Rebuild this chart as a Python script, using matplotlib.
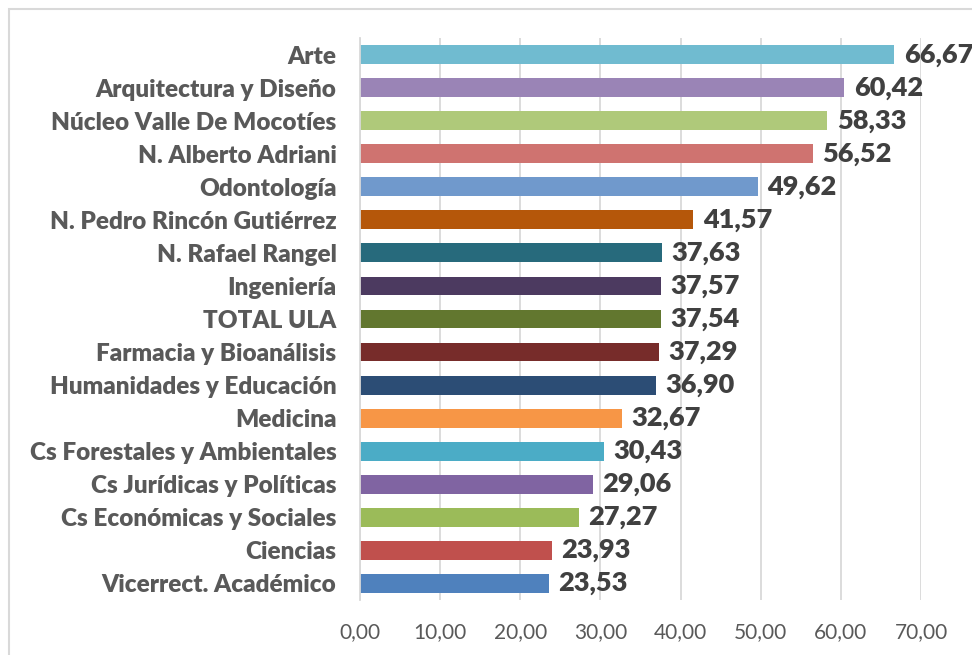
import matplotlib
matplotlib.use("Agg")
import matplotlib.pyplot as plt
from matplotlib.patches import Rectangle

categories = [
    "Arte", "Arquitectura y Diseño", "Núcleo Valle De Mocotíes", "N. Alberto Adriani",
    "Odontología", "N. Pedro Rincón Gutiérrez", "N. Rafael Rangel", "Ingeniería",
    "TOTAL ULA", "Farmacia y Bioanálisis", "Humanidades y Educación", "Medicina",
    "Cs Forestales y Ambientales", "Cs Jurídicas y Políticas", "Cs Económicas y Sociales",
    "Ciencias", "Vicerrect. Académico",
]
values = [66.67, 60.42, 58.33, 56.52, 49.62, 41.57, 37.63, 37.57, 37.54, 37.29,
          36.90, 32.67, 30.43, 29.06, 27.27, 23.93, 23.53]
colors = ["#70BBD0", "#9A84B6", "#AFC97A", "#CF7370", "#7099CC", "#B5570A",
          "#276A7C", "#4C3A60", "#62772F", "#772C2A", "#2C4D75", "#F79646",
          "#4BACC6", "#8064A2", "#9BBB59", "#C0504D", "#4F81BD"]
xticks = [0, 10, 20, 30, 40, 50, 60, 70]

plt.rcParams['font.family'] = ['Lato', 'DejaVu Sans']

fig = plt.figure(figsize=(9.72, 6.55), dpi=100)
fig.patches.append(Rectangle((9/972, -0.1), 1.2, 1 - 9/655 + 0.1, transform=fig.transFigure,
                             fill=False, edgecolor="#D9D9D9", linewidth=1.5, zorder=0))
ax = fig.add_axes([360/972, 1 - 600/655, (921 - 360)/972, (600 - 38)/655])

n = len(categories)
ypos = list(range(n - 1, -1, -1))
ax.barh(ypos, values, height=0.57, color=colors, zorder=3)
for y, v in zip(ypos, values):
    ax.text(v + 1.2, y, f"{v:.2f}".replace(".", ","), va="center", ha="left",
            fontsize=19.5, fontweight="heavy", color="#404040", clip_on=False)

ax.set_xlim(0, 70)
ax.set_ylim(-0.5, n - 0.5)
ax.set_xticks(xticks)
ax.set_xticklabels([f"{t:.2f}".replace(".", ",") for t in xticks], fontsize=15, color="#595959")
ax.set_yticks(ypos)
ax.set_yticklabels(categories, fontsize=17.5, fontweight="heavy", color="#595959")
ax.tick_params(axis="y", length=0, pad=17)
ax.tick_params(axis="x", length=0, pad=16)
ax.grid(axis="x", color="#D9D9D9", linewidth=1.3, zorder=0)
for s in ["top", "right", "bottom"]:
    ax.spines[s].set_visible(False)
ax.spines["left"].set_color("#D9D9D9")
ax.spines["left"].set_linewidth(1.3)
ax.spines["left"].set_zorder(4)

fig.savefig("out.png", dpi=100)
